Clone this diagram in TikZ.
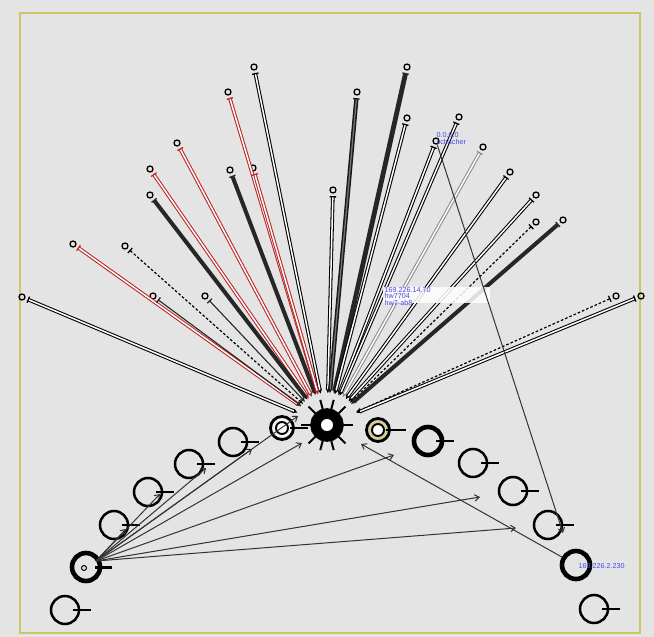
\documentclass[tikz,border=0pt]{standalone}
\usepackage{fontspec}
\setsansfont{Liberation Sans}
\usetikzlibrary{arrows.meta,calc}
\definecolor{bggray}{RGB}{228,228,228}
\definecolor{frameolive}{RGB}{204,198,104}
\definecolor{linkred}{RGB}{185,38,38}
\definecolor{lblue}{RGB}{72,72,232}
\definecolor{ringtan}{RGB}{214,204,158}
\tikzset{
  peer/.style={circle, draw=black, line width=1.3pt, inner sep=0pt, minimum size=6pt},
  host/.style={circle, draw=black, line width=2.5pt, inner sep=0pt, minimum size=28pt},
  bighost/.style={host, line width=4.6pt},
  hosttick/.style={line width=1.7pt},
  rail/.style={draw=black, double=white, double distance=1.5pt, line width=1.05pt},
  redrail/.style={rail, draw=linkred},
  greyrail/.style={rail, draw=black!45},
  darkrail/.style={draw=black!90, double=black!55, double distance=1.3pt, line width=1.5pt},
  heavy/.style={draw=black!85, line width=4pt},
  dashlink/.style={draw=black, line width=1.2pt, dash pattern=on 2.6pt off 2pt},
  thinlink/.style={draw=black!85, line width=1.1pt},
  linkend/.style={{Bar[width=6.5pt,line width=1.3pt]}-{Stealth[length=5pt,width=4.5pt]}, shorten <=2.5pt},
  flow/.style={draw=black!80, line width=1pt, -{Straight Barb[length=4.5pt,width=6.5pt]}},
  tag/.style={font=\sffamily\fontsize{7.2}{6.4}\selectfont, text=lblue, inner sep=0.5pt, align=left},
}
\begin{document}
\begin{tikzpicture}[x=1pt,y=-1pt]
\fill[bggray] (0,0) rectangle (654,637);
\useasboundingbox (0,0) rectangle (654,637);
\draw[frameolive, line width=1.6pt] (20,13) rectangle (640,633);

% central hub with its spokes
\node[circle, draw=black, line width=10.5pt, fill=white, inner sep=0pt, minimum size=23pt] (hub) at (327,425) {};
\foreach \ang in {0,45,75,105,135,180,225,255,285,315}
  \draw[line width=2pt] ($(hub.center)+(\ang:15)$) -- ($(hub.center)+(\ang:26)$);

% the two ringed hosts beside the hub
\node[circle, draw=black, line width=2.8pt, fill=white!60!bggray, inner sep=0pt, minimum size=23pt] (lnear) at (282,428) {};
\node[circle, draw=black, line width=1.9pt, fill=white, inner sep=0pt, minimum size=12pt] (lnearcore) at (lnear) {};
\draw[hosttick] (lnear.center) ++(8,0) -- ++(18,0);
\node[circle, draw=black, line width=2.8pt, fill=ringtan, inner sep=0pt, minimum size=23pt] (rnear) at (378,430) {};
\node[circle, draw=black, line width=1.9pt, fill=white, inner sep=0pt, minimum size=12pt] (rnearcore) at (rnear) {};
\draw[hosttick] (rnear.center) ++(8,0) -- ++(20,0);

% hosts along the lower arc
\node[host] (L4) at (233,442) {};
\node[host] (L3) at (189,464) {};
\node[host] (L2) at (148,492) {};
\node[host] (L1) at (114,525) {};
\node[bighost] (L0) at (86,567) {};
\node[circle, draw=black, line width=1pt, inner sep=0pt, minimum size=5pt] (L0core) at (84,568) {};
\node[host] (BL) at (65,610) {};
\node[bighost] (R1) at (428,441) {};
\node[host] (R2) at (473,463) {};
\node[host] (R3) at (513,491) {};
\node[host] (R4) at (548,525) {};
\node[bighost] (R5) at (576,565) {};
\node[host] (BR) at (594,609) {};
\foreach \h in {L4,L3,L2,L1,BL,R1,R2,R3,R4,BR}
  \draw[hosttick] (\h.center) ++(8,0) -- ++(18,0);
\draw[line width=3pt] (L0.center) ++(9,0) -- ++(17,0);

% remote peers
\foreach \n/\px/\py in {a/22/297, b/73/244, c/125/246, d/150/169, e/150/195, f/177/143,
    g/153/296, h/205/296, i/228/92, j/230/170, k/254/67, l/253/168, m/333/190, n/357/92,
    p/407/67, q/407/118, r/436/141, s/459/117, t/483/147, u/510/172, v/536/195,
    w/536/222, x/563/220, y/616/296, z/641/296}
{
  \node[peer] (\n) at (\px,\py) {};
  \coordinate (\n-end) at ($(hub.center)!32pt!(\n)$);
}

% links from the peers into the hub
\draw[rail, linkend] (a) -- (a-end);
\draw[redrail, linkend] (b) -- (b-end);
\draw[dashlink, linkend] (c) -- (c-end);
\draw[redrail, linkend] (d) -- (d-end);
\draw[heavy, linkend] (e) -- (e-end);
\draw[redrail, linkend] (f) -- (f-end);
\draw[thinlink, linkend] (g) -- (g-end);
\draw[thinlink, linkend] (h) -- (h-end);
\draw[redrail, linkend] (i) -- (i-end);
\draw[heavy, linkend] (j) -- (j-end);
\draw[rail, linkend] (k) -- (k-end);
\draw[redrail, linkend] (l) -- (l-end);
\draw[rail, linkend] (m) -- (m-end);
\draw[darkrail, linkend] (n) -- (n-end);
\draw[heavy, line width=4.8pt, linkend] (p) -- (p-end);
\draw[rail, linkend] (q) -- (q-end);
\draw[rail, linkend] (r) -- (r-end);
\draw[rail, linkend] (s) -- (s-end);
\draw[greyrail, linkend] (t) -- (t-end);
\draw[rail, linkend] (u) -- (u-end);
\draw[rail, linkend] (v) -- (v-end);
\draw[dashlink, linkend] (w) -- (w-end);
\draw[heavy, linkend] (x) -- (x-end);
\draw[dashlink, linkend] (y) -- (y-end);
\draw[rail, linkend] (z) -- (z-end);

% label for the hub address, drawn over the links
\fill[white, opacity=0.85] (383,287) rectangle (490,303);
\node[tag, anchor=north west] (hublabel) at (384,286.5) {169.226.14.70\\hw7704\\hw7-ab8};

% long link from the schacher peer down to the lower right
\coordinate (r-far) at (563,533);
\draw[flow] (r) -- (r-far);
\node[tag, anchor=north west] (rlabel) at (436,132) {0.0.0.0\\schacher};

% flows out of the lower left host
\coordinate (src) at (96,561);
\coordinate (f1) at (126,529);
\coordinate (f2) at (160,494);
\coordinate (f3) at (206,468);
\coordinate (f4) at (252,449);
\coordinate (f5) at (298,416);
\coordinate (f6) at (302,443);
\coordinate (f7) at (394,455);
\coordinate (f8) at (480,497);
\coordinate (f9) at (516,528);
\foreach \f in {f1,f2,f3,f4,f5,f6,f7,f8,f9}
  \draw[flow] (src) -- (\f);

% flow from the lower right host back to the hub side
\coordinate (rin) at (361,444);
\draw[flow] (R5) -- (rin);
\node[tag, font=\sffamily\fontsize{7.2}{7}\selectfont, anchor=west] (r5label) at (578,566) {169.226.2.230};
\end{tikzpicture}
\end{document}
